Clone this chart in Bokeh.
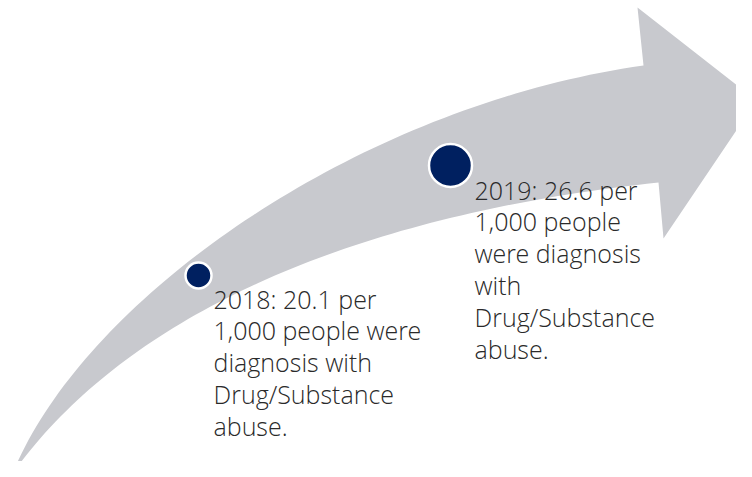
import numpy as np
from bokeh.plotting import figure
from bokeh.models import Range1d, ColumnDataSource
from bokeh.core.properties import value
from bokeh.embed import file_html
from bokeh.resources import INLINE

# ---- data ----
years = ["2018", "2019"]
rates = [20.1, 26.6]
label_lines = [
    ["2018: 20.1 per", "1,000 people were", "diagnosis with", "Drug/Substance", "abuse."],
    ["2019: 26.6 per", "1,000 people", "were diagnosis", "with", "Drug/Substance", "abuse."],
]

# ---- layout (screen-like coordinates, y grows downward) ----
marker_x = [198, 450]
marker_y = [275, 165]
marker_r = [13, 21.5]
text_x = [213, 474]
text_y0 = [298, 189]
line_step = 31.8

ARROW = "#c8c9ce"
NAVY = "#002060"
TEXT = "#2a2a2a"

def cubic(p0, p1, p2, p3, n=80):
    t = np.linspace(0, 1, n)[:, None]
    p0, p1, p2, p3 = map(np.array, (p0, p1, p2, p3))
    return ((1 - t) ** 3) * p0 + 3 * ((1 - t) ** 2) * t * p1 + 3 * (1 - t) * t ** 2 * p2 + t ** 3 * p3

tail = (12, 473)
top_ctrl = [(85, 295), (360, 105)]
top_end = (643, 65)
bot_ctrl = [(125, 315), (350, 215)]
bot_end = (658, 182)
head = [(637, 7), (756, 100), (663, 238)]

top = cubic(tail, top_ctrl[0], top_ctrl[1], top_end)
bot = cubic(tail, bot_ctrl[0], bot_ctrl[1], bot_end)[::-1]
pts = np.vstack([top, np.array(head), bot])

p = figure(width=736, height=461, x_range=Range1d(0, 736), y_range=Range1d(461, 0),
           output_backend="svg", toolbar_location=None, min_border=0)
p.axis.visible = False
p.grid.visible = False
p.outline_line_color = None
p.background_fill_color = "white"

p.patch(pts[:, 0], pts[:, 1], fill_color=ARROW, line_color=None)

src = ColumnDataSource(dict(x=marker_x, y=marker_y, r=marker_r, year=years, rate=rates))
p.circle(x="x", y="y", radius="r", source=src, fill_color=NAVY,
         line_color="white", line_width=2.5)

xs, ys, ts = [], [], []
for i, lines in enumerate(label_lines):
    for j, ln in enumerate(lines):
        xs.append(text_x[i])
        ys.append(text_y0[i] + j * line_step)
        ts.append(ln)
p.text(x=xs, y=ys, text=ts, text_font=value("Open Sans Light, Open Sans"), text_font_size="25px",
       text_color=TEXT, text_baseline="alphabetic", text_align="left")

open("out.html", "w").write(file_html(p, INLINE))
